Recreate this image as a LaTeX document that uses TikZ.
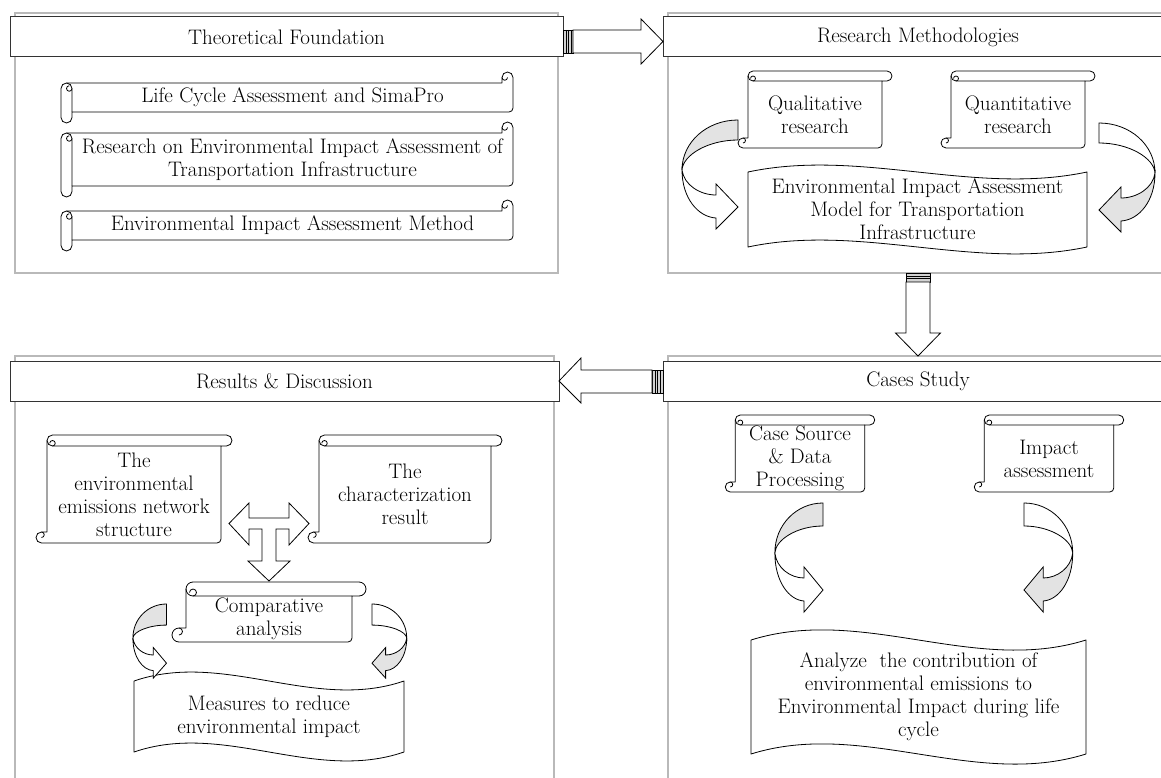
\documentclass[tikz,border=0pt]{standalone}
\usepackage{fontspec}
\usepackage{tikz}
\usetikzlibrary{calc, positioning}

% vertical scroll drawn round a body node (#1), roll size #2
\newcommand{\vscroll}[2]{%
  \draw[scrollline] ($(#1.north west)+(#2/2,-#2)$) -- ($(#1.north east)+(#2/2,-#2)$)
    arc[start angle=-90, end angle=90, radius=#2/2] -- (#1.north east)
    -- ($(#1.south east)+(0,-4)$) arc[start angle=0, end angle=90, radius=4]
    -- ($(#1.south west)+(-#2/2,0)$) arc[start angle=90, end angle=270, radius=#2/2]
    -- ($(#1.south west)+(0,-#2)$) -- ($(#1.north west)+(0,-#2/2)$)
    arc[start angle=180, end angle=270, radius=#2/2] -- cycle;
  \draw[scrollline] (#1.north east) -- ($(#1.north west)+(#2/2,0)$)
    arc[start angle=90, end angle=180, radius=#2/2];
  \draw[scrollline] ($(#1.north west)+(#2/2,0)$) arc[start angle=90, end angle=-180, radius=#2/4];
  \draw[scrollline] ($(#1.south west)+(-#2/2,-#2)$) arc[start angle=-90, end angle=90, radius=#2/4];
}
% horizontal scroll drawn round a body node (#1), roll size #2
\newcommand{\hscroll}[2]{%
  \draw[scrollline] ($(#1.north west)+(-#2,#2/2)$) -- ($(#1.south west)+(-#2,#2/2)$)
    arc[start angle=180, end angle=0, radius=#2/2] -- (#1.south west)
    -- ($(#1.south east)+(-4,0)$) arc[start angle=90, end angle=0, radius=4]
    -- ($(#1.north east)+(0,-#2/2)$) arc[start angle=0, end angle=-180, radius=#2/2]
    -- ($(#1.north east)+(-#2,0)$) -- ($(#1.north west)+(-#2/2,0)$)
    arc[start angle=270, end angle=180, radius=#2/2] -- cycle;
  \draw[scrollline] (#1.south west) -- ($(#1.north west)+(0,#2/2)$)
    arc[start angle=0, end angle=-90, radius=#2/2];
  \draw[scrollline] ($(#1.north west)+(0,#2/2)$) arc[start angle=0, end angle=270, radius=#2/4];
  \draw[scrollline] ($(#1.north east)+(-#2,-#2/2)$) arc[start angle=180, end angle=0, radius=#2/4];
}
% wavy banner round a body node (#1), bend #2
\newcommand{\wavebox}[2]{%
  \draw[scrollline] (#1.north west)
    .. controls ($(#1.north west)!1/3!(#1.north east)+(0,-#2)$) and ($(#1.north west)!2/3!(#1.north east)+(0,#2)$) .. (#1.north east)
    -- (#1.south east)
    .. controls ($(#1.south west)!2/3!(#1.south east)+(0,#2)$) and ($(#1.south west)!1/3!(#1.south east)+(0,-#2)$) .. (#1.south west) -- cycle;
}
% curved ribbon arrow: tail coordinate, xscale, yscale, tail width, upper fill, lower fill
\newcommand{\bentarrow}[6]{%
  \begin{scope}[shift={(#1)}, xscale=#2, yscale=#3]
    \draw[bentline, fill=#5] (0,0) .. controls (-31,0) and (-56,22) .. (-56,50)
      .. controls (-55,{25+#4/2}) and (-30,#4) .. (0,#4) -- cycle;
    \draw[bentline, fill=#6] (-56,50) .. controls (-56,78) and (-40,97) .. (-22,98)
      -- (-22,109) -- (0,87) -- (-22,64) -- (-22,75)
      .. controls (-38,75) and (-54,65) .. (-56,50) -- cycle;
  \end{scope}}

\begin{document}
\begin{tikzpicture}[
    x=1pt, y=-1pt,
    every node/.style={font=\fontsize{21}{23}\selectfont, align=center},
    panel/.style={rectangle, draw=gray!55, line width=1.2pt, inner sep=0, outer sep=0},
    head/.style={rectangle, draw=black!80, line width=1pt, fill=white, minimum height=40, inner sep=0, outer sep=0},
    scrollbody/.style={rectangle, inner sep=0, outer sep=0},
    scrollline/.style={draw=black, line width=0.8pt, line join=round},
    blockarr/.style={draw=black, fill=white, line width=0.8pt, line join=miter},
    hatch/.style={draw=black, fill=gray!35, line width=0.6pt},
    bentline/.style={draw=black, line width=0.8pt, line join=miter}
]
\useasboundingbox (0,0) rectangle (1161,778);

% PANELS
\node[panel, minimum width=543, minimum height=260, anchor=north west] (tfpanel) at (15,13) {};
\node[panel, minimum width=500, minimum height=260, anchor=north west] (rmpanel) at (668,13) {};
\node[panel, minimum width=539, minimum height=444, anchor=north west] (rdpanel) at (15,356) {};
\node[panel, minimum width=500, minimum height=444, anchor=north west] (cspanel) at (668,356) {};

% HEADERS
\node[head, minimum width=553, anchor=north west] (tfhead) at (10,17) {Theoretical Foundation};
\node[head, minimum width=510, anchor=north west] (rmhead) at (663,17) {Research Methodologies};
\node[head, minimum width=549, anchor=north west] (rdhead) at (10,361) {Results \& Discussion};
\node[head, minimum width=510, anchor=north west] (cshead) at (663,361) {Cases Study};

% BLOCK ARROWS
\draw[hatch] ($(tfhead.east)+(0,-7)$) rectangle ++(10,23);
\foreach \i in {3,5.5,8} \draw[line width=0.6pt] ($(tfhead.east)+(\i,-7)$) -- ++(0,23);
\draw[blockarr] ($(tfhead.east)+(10,-7)$) -- ++(68,0) -- ++(0,-11) -- ($(rmhead.west)+(0,4.5)$)
  -- ($(tfhead.east)+(78,27)$) -- ++(0,-11) -- ++(-68,0) -- cycle;

\draw[hatch] ($(rmpanel.south)+(-12,0)$) rectangle ++(24,9);
\foreach \i in {3,5.5} \draw[line width=0.6pt] ($(rmpanel.south)+(-12,\i)$) -- ++(24,0);
\draw[blockarr] ($(rmpanel.south)+(-12,9)$) -- ++(0,51) -- ++(-10.5,0) -- (cspanel.north)
  -- ($(rmpanel.south)+(22.5,60)$) -- ++(-10.5,0) -- ++(0,-51) -- cycle;

\draw[hatch] ($(cshead.west)+(-11,-11)$) rectangle ++(11,23);
\foreach \i in {3,5.5,8} \draw[line width=0.6pt] ($(cshead.west)+(-\i,-11)$) -- ++(0,23);
\draw[blockarr] ($(cshead.west)+(-11,-11)$) -- ++(-71,0) -- ++(0,-12) -- (rdhead.east)
  -- ($(cshead.west)+(-82,22)$) -- ++(0,-10) -- ++(71,0) -- cycle;

% THEORETICAL FOUNDATION
\node[scrollbody, minimum width=441, minimum height=29] (lca) at (292.5,97.5) {Life Cycle Assessment and SimaPro};
\node[scrollbody, minimum width=441, minimum height=53] (eiatr) at (292.5,159.5) {Research on Environmental Impact Assessment of\\Transportation Infrastructure};
\node[scrollbody, minimum width=441, minimum height=29] (eiam) at (292.5,225.5) {Environmental Impact Assessment Method};
\hscroll{lca}{11}
\hscroll{eiatr}{11}
\hscroll{eiam}{11}

% RESEARCH METHODOLOGIES
\node[scrollbody, minimum width=134, minimum height=67] (qual) at (815,114.5) {Qualitative\\research};
\node[scrollbody, minimum width=134, minimum height=67] (quant) at (1018,114.5) {Quantitative\\research};
\node[scrollbody, minimum width=339, minimum height=75] (eiamodel) at (917.5,209.5) {Environmental Impact Assessment\\Model for Transportation\\Infrastructure};
\vscroll{qual}{10}
\vscroll{quant}{10}
\wavebox{eiamodel}{24}
\coordinate (qualtail) at (738,120);
\coordinate (quanttail) at (1099,123);
\bentarrow{qualtail}{1}{1}{20}{gray!22}{white}
\bentarrow{quanttail}{-1}{1}{20}{white}{gray!22}

% CASES STUDY
\node[scrollbody, minimum width=129.5, minimum height=67] (casesrc) at (800,458.5) {Case Source\\\& Data\\Processing};
\node[scrollbody, minimum width=129.5, minimum height=67] (impact) at (1049,458.5) {Impact\\assessment};
\node[scrollbody, minimum width=335, minimum height=114] (analyze) at (918.5,697) {Analyze\ \ the contribution of\\environmental emissions to\\Environmental Impact during life\\cycle};
\vscroll{casesrc}{10}
\vscroll{impact}{10}
\wavebox{analyze}{35}
\coordinate (srctail) at (823,503);
\coordinate (imptail) at (1024,503);
\bentarrow{srctail}{0.86}{1}{23}{gray!22}{white}
\bentarrow{imptail}{-0.87}{1}{23}{white}{gray!22}

% RESULTS & DISCUSSION
\node[scrollbody, minimum width=174, minimum height=97] (envnet) at (134,494.5) {The\\environmental\\emissions network\\structure};
\node[scrollbody, minimum width=172, minimum height=97] (charres) at (405,494.5) {The\\characterization\\result};
\node[scrollbody, minimum width=166, minimum height=46] (compan) at (269,619) {Comparative\\analysis};
\node[scrollbody, minimum width=270, minimum height=71] (measures) at (269,716.5) {Measures to reduce\\environmental impact};
\vscroll{envnet}{11}
\vscroll{charres}{11}
\vscroll{compan}{14}
\wavebox{measures}{31}
\coordinate (tee) at ($(envnet.east)!0.5!(charres.west)+(0,29)$);
\draw[blockarr] ($(tee)+(-41,0)$) -- ++(20,-20.5) -- ++(0,15) -- ++(40,0) -- ++(0,-15) -- ++(20,20.5)
  -- ++(-20,21.5) -- ++(0,-16) -- ++(-13,0) -- ++(0,32) -- ++(14,0) -- ++(-21,20) -- ++(-21,-20)
  -- ++(14,0) -- ++(0,-32) -- ++(-13,0) -- ++(0,16) -- cycle;
\coordinate (comptail) at (166.5,604);
\coordinate (comptailr) at (372,604);
\bentarrow{comptail}{0.6}{0.68}{31}{gray!22}{white}
\bentarrow{comptailr}{-0.62}{0.68}{31}{white}{gray!22}

\end{tikzpicture}
\end{document}
